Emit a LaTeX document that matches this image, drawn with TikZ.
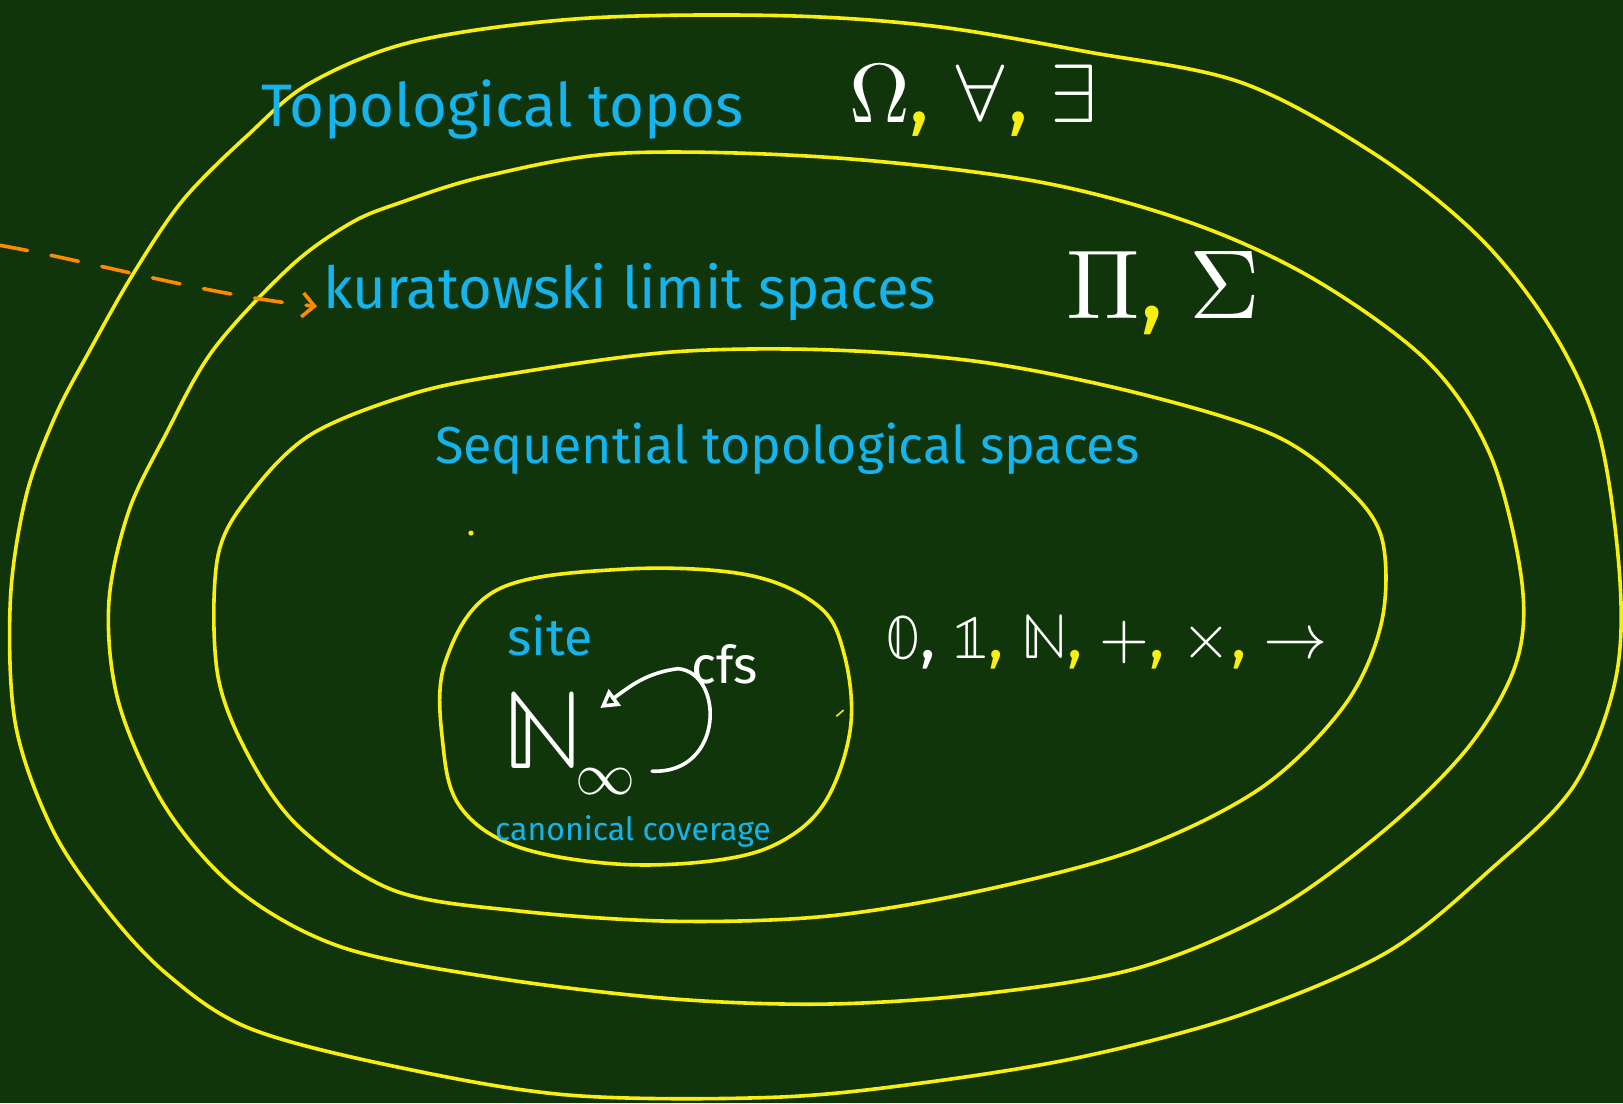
\documentclass[tikz,border=0pt]{standalone}
\usepackage{fontspec}
\usepackage{unicode-math}
\setmainfont{Fira Sans}
\usetikzlibrary{arrows.meta}
\definecolor{bg}{HTML}{10350B}
\definecolor{yel}{HTML}{F8EE10}
\definecolor{cyn}{HTML}{16B4EE}
\definecolor{org}{HTML}{FF8A00}
\newcommand{\yc}{\textcolor{yel}{,}}
\begin{document}
\begin{tikzpicture}[x=0.5175pt,y=-0.5175pt,
  oval/.style={draw=yel,line width=1.8pt,line join=round},
  ctext/.style={text=cyn,inner sep=0pt,anchor=base west},
  wtext/.style={text=white,inner sep=0pt,anchor=base west}]
\fill[bg] (0,0) rectangle (1568,1066);
\useasboundingbox (0,0) rectangle (1568,1066);

% outer oval
\draw[oval] plot[smooth cycle,tension=0.55] coordinates {
 (400,40) (560,18) (750,15) (900,25) (1050,50) (1200,80) (1330,150) (1430,230)
 (1500,320) (1545,420) (1565,560) (1560,660) (1520,760) (1440,840) (1340,920)
 (1200,980) (1050,1020) (900,1045) (750,1060) (550,1058) (380,1030) (240,993)
 (160,940) (100,875) (50,800) (15,700) (10,580) (25,480) (53,403) (87,338)
 (129,264) (177,193) (240,130) (300,80)};
% middle oval
\draw[oval] plot[smooth cycle,tension=0.55] coordinates {
 (600,148) (800,152) (1000,175) (1150,215) (1270,270) (1380,350) (1440,440)
 (1470,560) (1465,640) (1420,720) (1340,800) (1230,880) (1100,935) (950,960)
 (800,970) (650,965) (480,945) (330,915) (230,860) (160,780) (115,680)
 (105,585) (124,495) (160,420) (206,338) (280,258) (338,216) (386,196) (470,170)};
% inner oval
\draw[oval] plot[smooth cycle,tension=0.55] coordinates {
 (500,360) (650,340) (800,338) (950,350) (1100,380) (1230,420) (1300,470)
 (1335,520) (1335,600) (1300,680) (1220,760) (1100,820) (950,860) (800,885)
 (650,890) (500,880) (380,860) (290,800) (240,730) (210,650) (210,540)
 (240,480) (300,420) (400,380)};
% site oval
\draw[oval] plot[smooth cycle,tension=0.6] coordinates {
 (480,570) (600,550) (720,555) (790,585) (815,630) (822,700) (800,770)
 (760,810) (700,830) (600,835) (500,818) (445,780) (428,720) (430,640)};

% labels
\node[ctext,font=\fontsize{30}{36}\selectfont] (topos) at (252,122) {Topological topos};
\node[wtext,font=\fontsize{42}{46}\selectfont] (logic) at (820,118) {$\Omega$\yc\ $\forall$\yc\ $\exists$};
\node[ctext,font=\fontsize{29}{34}\selectfont] (kur) at (312,298) {kuratowski limit spaces};
\node[wtext,font=\fontsize{49}{52}\selectfont] (pisig) at (1030,308) {$\Pi$\yc\ $\Sigma$};
\node[ctext,font=\fontsize{26}{32}\selectfont] (seq) at (420,448) {Sequential topological spaces};
\fill[yel] (455,515) circle (2.5);
\node[wtext,font=\fontsize{32}{36}\selectfont] (ops) at (855,636) {$\mathbb{0}$, $\mathbb{1}$\yc\ $\mathbb{N}$\yc\ $+$\yc\ $\times$\yc\ $\rightarrow$};
\draw[yel,line width=0.8pt] (808,692) -- (815,686);

% site contents
\node[ctext,font=\fontsize{26}{30}\selectfont] (site) at (490,633) {site};
\node[wtext,font=\fontsize{56}{60}\selectfont] (N) at (485,742) {$\mathbb{N}$};
\node[wtext,font=\fontsize{30}{34}\selectfont] (inf) at (556,768) {$\infty$};
\node[wtext,font=\fontsize{26}{30}\selectfont] (cfs) at (668,660) {cfs};
\node[ctext,font=\fontsize{16}{20}\selectfont] (cov) at (478,812) {canonical coverage};

\coordinate (ls) at (630,745);
\coordinate (le) at (580,684);
\draw[white,line width=1.8pt,line cap=round,-{Triangle[open,length=9pt,width=10pt]}]
  (ls) .. controls (700,748) and (700,650) .. (655,646)
  .. controls (625,650) and (610,662) .. (le);

% orange dashed arrow
\coordinate (ostart) at (0,237);
\draw[org,line width=1.8pt,dashed,dash pattern=on 14pt off 12pt,line cap=round,-{Straight Barb[length=6pt,width=12pt]}]
  (ostart) .. controls (100,255) and (200,285) .. ([xshift=-3pt]kur.west |- 0,296);
\end{tikzpicture}
\end{document}
